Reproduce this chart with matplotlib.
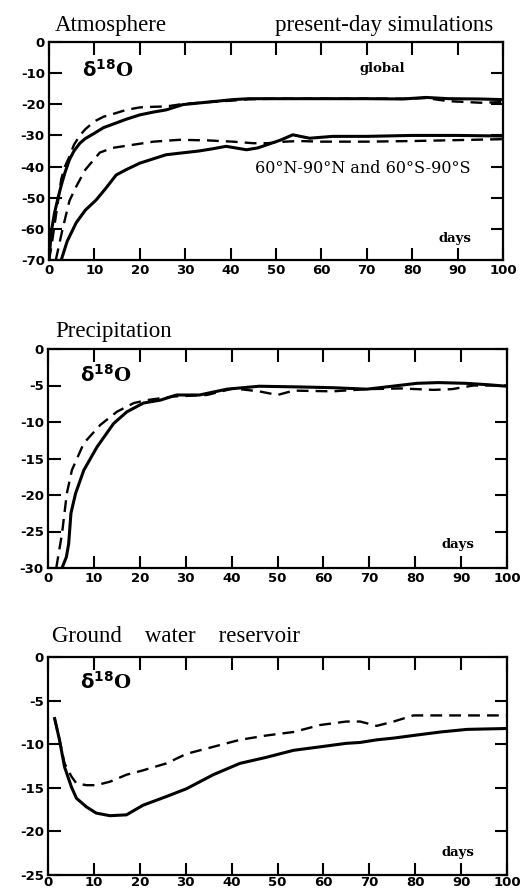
import matplotlib
matplotlib.use("Agg")
import matplotlib.pyplot as plt
from matplotlib.font_manager import FontProperties

# Atmosphere: global mean and polar (60-90N + 60-90S), solid / dashed runs
atm_glob_x = [0, 0.5, 1.2, 2, 2.7, 3.5, 4.5, 5.5, 6.8, 8, 10, 12, 14.8, 17, 20, 23, 25.8, 29.5, 35, 40.5, 44, 50, 60, 70, 78, 83, 88, 95, 100]
atm_glob_solid = [-70, -61, -55, -50, -46, -42, -37.8, -35, -32.5, -31, -29.3, -27.5, -26, -24.8, -23.4, -22.5, -21.8, -20.1, -19.3, -18.5, -18.2, -18.2, -18.2, -18.2, -18.3, -17.8, -18.2, -18.3, -18.5]
atm_glob_dash = [-70, -66, -59, -51, -44, -40, -36.8, -33, -30, -28, -25.5, -24, -22.8, -21.8, -21, -20.8, -20.7, -19.9, -19.3, -18.8, -18.4, -18.2, -18.2, -18.2, -18.2, -18.0, -19.0, -19.5, -19.3]

atm_pol_x_solid = [2.7, 4, 6, 8, 10.4, 12.5, 14.8, 17, 20, 23, 25.8, 30, 33, 36, 39, 43.5, 46, 48, 51, 53.7, 57.4, 62.5, 70, 80, 90, 100]
atm_pol_solid = [-70, -64, -58, -54, -50.7, -47, -42.7, -41, -38.9, -37.5, -36.2, -35.5, -35, -34.3, -33.5, -34.6, -34, -33, -31.5, -29.8, -30.9, -30.3, -30.3, -30, -30, -30.2]
atm_pol_x_dash = [1.5, 3, 4.5, 6, 8, 11.2, 14, 18.5, 23, 28.8, 35, 40.5, 45, 48, 52, 55, 60, 70, 80, 90, 100]
atm_pol_dash = [-70, -60, -51, -46.4, -41, -35.5, -34, -33, -32, -31.4, -31.6, -32, -32.5, -32.5, -32, -31.8, -32, -32, -31.8, -31.5, -31.2]

# Precipitation
pre_x_solid = [3.05, 4, 4.5, 5, 6, 7.8, 10.7, 14.3, 17.2, 20.8, 24.5, 28, 33, 36, 39, 46, 55, 62, 69.5, 75, 80.4, 85, 91, 96, 100]
pre_solid = [-30, -28.5, -26.7, -22.5, -19.8, -16.6, -13.4, -10.2, -8.6, -7.4, -7.0, -6.3, -6.3, -5.9, -5.5, -5.1, -5.2, -5.3, -5.5, -5.1, -4.7, -4.6, -4.7, -4.9, -5.1]
pre_x_dash = [1.8, 3.05, 4.1, 5.2, 7.8, 11.4, 15, 18.7, 21.6, 27.4, 34.6, 40.4, 46, 50, 53.5, 62, 69.5, 76.8, 84, 88, 92.7, 100]
pre_dash = [-30, -25.3, -19.8, -16.6, -12.9, -10.4, -8.6, -7.4, -7.0, -6.5, -6.3, -5.4, -5.8, -6.3, -5.7, -5.8, -5.5, -5.4, -5.6, -5.5, -5.0, -5.0]

# Ground water reservoir
gw_x = [1.45, 2.5, 3.6, 5.1, 6.2, 8.4, 10.5, 13.5, 17.1, 20.7, 25.8, 30.2, 36, 41.8, 47.6, 53.5, 59.3, 65, 68, 71.6, 75.3, 79.6, 85.5, 91.3, 100]
gw_solid = [-7.06, -9.5, -12.6, -14.9, -16.2, -17.2, -17.9, -18.2, -18.1, -17.0, -16.0, -15.1, -13.5, -12.2, -11.5, -10.7, -10.3, -9.9, -9.8, -9.5, -9.3, -9.0, -8.6, -8.3, -8.2]
gw_dash = [-7.06, -9.5, -12.2, -13.7, -14.5, -14.7, -14.7, -14.3, -13.5, -13.0, -12.2, -11.1, -10.3, -9.5, -9.0, -8.6, -7.8, -7.4, -7.4, -7.9, -7.4, -6.7, -6.7, -6.7, -6.7]

xticks = [0, 10, 20, 30, 40, 50, 60, 70, 80, 90, 100]

W, H = 531, 890
fig = plt.figure(figsize=(W / 100, H / 100), dpi=100)

serif = 'Liberation Serif'
tickfont = FontProperties(family='DejaVu Sans', weight='bold', size=9.5)


def make_axes(l, r, t, b, ymin, ystep, xpad=3):
    ax = fig.add_axes([l / W, 1 - b / H, (r - l) / W, (b - t) / H])
    ax.set_xlim(0, 100)
    ax.set_ylim(ymin, 0)
    ax.set_xticks(xticks)
    yt = list(range(ymin, 1, ystep))
    ax.set_yticks(yt)
    ax.set_yticklabels([str(v) for v in yt])
    for lab in ax.get_xticklabels() + ax.get_yticklabels():
        lab.set_fontproperties(tickfont)
    ax.tick_params(direction='in', length=9, width=1.5, top=True, right=True, pad=3)
    ax.tick_params(axis='x', pad=xpad)
    for s in ax.spines.values():
        s.set_linewidth(1.6)
    return ax


def delta(ax, x, y):
    ax.text(x, y, r'$\mathbf{\delta}^{\mathbf{18}}$O', fontsize=14, fontweight='bold',
            family='DejaVu Serif', va='center', ha='left')


def days(ax, x, y):
    ax.text(x, y, 'days', fontsize=9.5, fontweight='bold', family='DejaVu Serif', ha='center', va='center')


# panel 1
ax1 = make_axes(49, 503, 42, 260, -70, 10)
ax1.plot(atm_glob_x, atm_glob_solid, 'k-', lw=2.2)
ax1.plot(atm_glob_x, atm_glob_dash, 'k--', lw=1.7, dashes=(5, 3))
ax1.plot(atm_pol_x_solid, atm_pol_solid, 'k-', lw=2.2)
ax1.plot(atm_pol_x_dash, atm_pol_dash, 'k--', lw=1.7, dashes=(5, 3))
delta(ax1, 7.3, -9)
ax1.text(73.5, -8.5, 'global', fontsize=9.5, fontweight='bold', family='DejaVu Serif', ha='center', va='center')
ax1.text(69, -40.5, '60°N-90°N and 60°S-90°S', fontsize=11.5, family='DejaVu Serif', ha='center', va='center')
days(ax1, 89.5, -63)
fig.text(55 / W, 1 - 25 / H, 'Atmosphere', fontsize=16.5, family=serif, va='center', ha='left')
fig.text(493 / W, 1 - 25 / H, 'present-day simulations', fontsize=16.5, family=serif, va='center', ha='right')

# panel 2
ax2 = make_axes(48, 507, 349, 568, -30, 5)
ax2.plot(pre_x_solid, pre_solid, 'k-', lw=2.2)
ax2.plot(pre_x_dash, pre_dash, 'k--', lw=1.7, dashes=(5, 3))
delta(ax2, 7, -3.6)
days(ax2, 89.3, -26.8)
fig.text(55 / W, 1 - 331 / H, 'Precipitation', fontsize=16.5, family=serif, va='center', ha='left')

# panel 3
ax3 = make_axes(48, 507, 657, 875, -25, 5, xpad=1)
ax3.plot(gw_x, gw_solid, 'k-', lw=2.2)
ax3.plot(gw_x, gw_dash, 'k--', lw=1.7, dashes=(5, 3))
delta(ax3, 7, -2.9)
days(ax3, 89.3, -22.4)
fig.text(52 / W, 1 - 637 / H, 'Ground    water    reservoir', fontsize=16.5, family=serif, va='center', ha='left')

fig.savefig('out.png', dpi=100)
